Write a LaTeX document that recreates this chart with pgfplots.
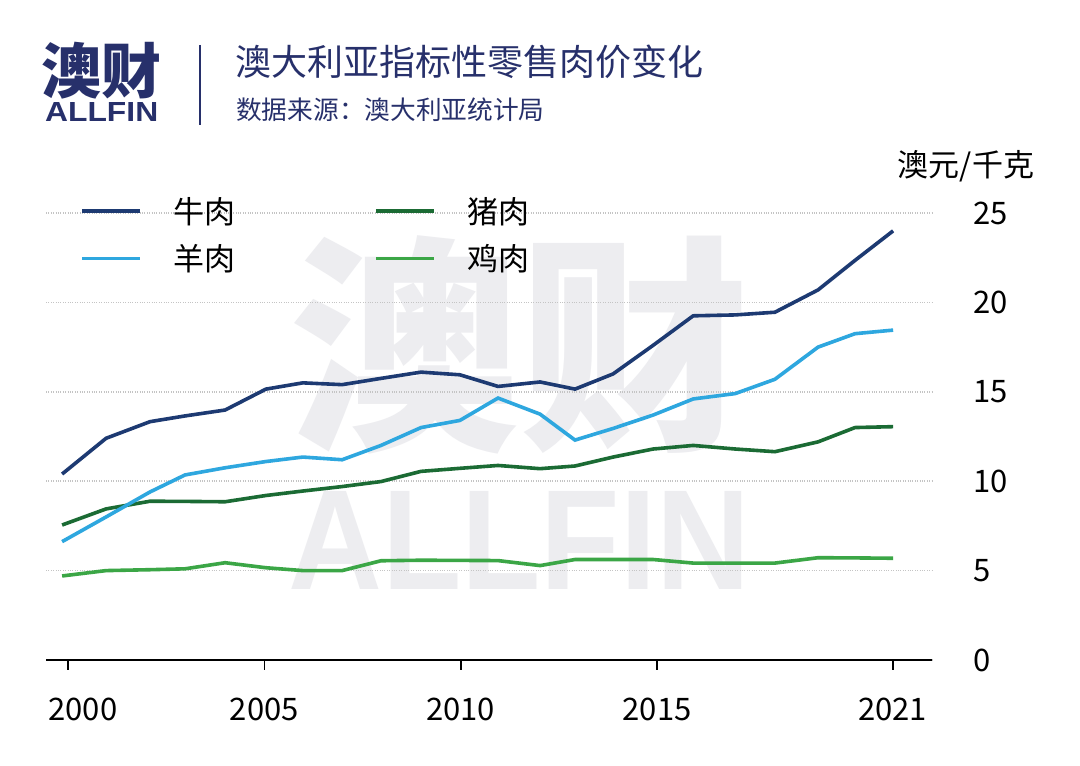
\documentclass[border=0pt]{standalone}
\usepackage{fontspec}
\setmainfont{Noto Sans CJK SC}
\newfontfamily\latinfont{Liberation Sans}
\usepackage{graphicx}
\usepackage{pgfplots}
\usepackage{pgfplotstable}
\pgfplotsset{compat=1.18}
\definecolor{beef}{HTML}{1D3A72}
\definecolor{lamb}{HTML}{2EA7DF}
\definecolor{pork}{HTML}{1B6B34}
\definecolor{chick}{HTML}{3BA646}
\definecolor{navy}{HTML}{27306B}
\definecolor{wm}{HTML}{EDEDF0}
\definecolor{gridc}{HTML}{C4C4C4}

\pgfplotstableread{
x        beef   lamb   pork   chick
1999.85  10.40  6.62   7.55   4.70
2000.97  12.40  8.00   8.45   5.00
2002.09  13.33  9.40   8.88   5.05
2002.98  13.65  10.35  8.87   5.10
2004.00  13.98  10.75  8.85   5.44
2005.04  15.15  11.10  9.20   5.16
2005.98  15.50  11.35  9.45   5.00
2006.98  15.40  11.20  9.70   5.00
2007.97  15.75  12.00  9.98   5.55
2008.99  16.10  13.00  10.55  5.58
2009.98  15.95  13.40  10.72  5.57
2010.95  15.30  14.65  10.88  5.56
2012.02  15.55  13.75  10.70  5.28
2012.91  15.15  12.30  10.85  5.62
2013.88  16.00  12.95  11.35  5.62
2014.90  17.60  13.70  11.80  5.62
2015.92  19.25  14.60  12.00  5.42
2016.99  19.30  14.90  11.80  5.42
2018.00  19.45  15.70  11.65  5.42
2019.10  20.70  17.50  12.20  5.72
2020.04  22.35  18.25  13.00  5.71
2021.01  24.00  18.45  13.05  5.69
}\meat

\begin{document}
\begin{tikzpicture}[x=1pt,y=1pt]
\useasboundingbox[fill=white] (0,0) rectangle (1080,766);
% watermark
\node[inner sep=0pt, text=wm, font=\fontsize{230}{230}\selectfont\bfseries] at (519,421) {澳财};
\node[inner sep=0pt, anchor=south west, text=wm, font=\latinfont\bfseries] at (288,176) {\resizebox{462pt}{98pt}{ALLFIN}};
% logo
\node[inner sep=0pt, text=navy, font=\fontsize{60}{60}\selectfont\bfseries] at (101.5,695) {澳财};
\node[inner sep=0pt, anchor=south west, text=navy, font=\latinfont\bfseries] at (45,644) {\resizebox{113pt}{19pt}{ALLFIN}};
\draw[navy, line width=2.5pt] (200,721) -- (200,641);
% titles
\node[inner sep=0pt, anchor=west, text=navy, font=\fontsize{36}{36}\selectfont] at (235,704) {澳大利亚指标性零售肉价变化};
\node[inner sep=0pt, anchor=west, text=navy, font=\fontsize{25.7}{25.7}\selectfont] at (236,656) {数据来源：澳大利亚统计局};
\node[inner sep=0pt, font=\fontsize{31}{31}\selectfont] at (966,600) {澳元/千克};

\begin{axis}[
  at={(46pt,106pt)}, anchor=south west, scale only axis,
  width=886pt, height=447pt,
  xmin=1999.44, xmax=2022.0, ymin=0, ymax=25,
  axis x line=bottom, axis y line=right,
  axis line style={-},
  x axis line style={line width=2.2pt, black},
  y axis line style={draw=none},
  xtick={2000,2005,2010,2015,2021},
  xticklabels={\hspace{30pt}2000,2005,2010,2015,2021},
  ytick={0,5,10,15,20,25},
  tick align=outside, major tick length=10pt,
  x tick style={line width=1.6pt, black},
  y tick style={draw=none},
  ymajorgrids, grid style={gridc, dotted, line width=1.5pt},
  /pgf/number format/assume math mode=true,
  /pgf/number format/1000 sep={},
  xticklabel style={font=\fontsize{31}{31}\selectfont, inner sep=0pt, yshift=-28pt},
  yticklabel style={font=\fontsize{31}{31}\selectfont, anchor=west, inner sep=0pt, xshift=31pt},
  legend columns=2,
  legend cell align=left,
  legend image code/.code={\draw[#1, line width=3.6pt] (0pt,0pt) -- (58pt,0pt);},
  legend style={draw=none, fill=none, at={(axis cs:2000.31,25.9)}, anchor=north west,
    font=\fontsize{31}{31}\selectfont, inner sep=0pt, row sep=20pt,
    nodes={inner sep=0pt},
    /tikz/every odd column/.append style={column sep=32pt},
    /tikz/every even column/.append style={column sep=138pt}},
]
\addplot[beef, line width=3.6pt] table[x=x, y=beef] {\meat};
\addlegendentry{牛肉}
\addplot[pork, line width=3.6pt] table[x=x, y=pork] {\meat};
\addlegendentry{猪肉}
\addplot[lamb, line width=3.6pt] table[x=x, y=lamb] {\meat};
\addlegendentry{羊肉}
\addplot[chick, line width=3.6pt] table[x=x, y=chick] {\meat};
\addlegendentry{鸡肉}
\end{axis}
\end{tikzpicture}
\end{document}
